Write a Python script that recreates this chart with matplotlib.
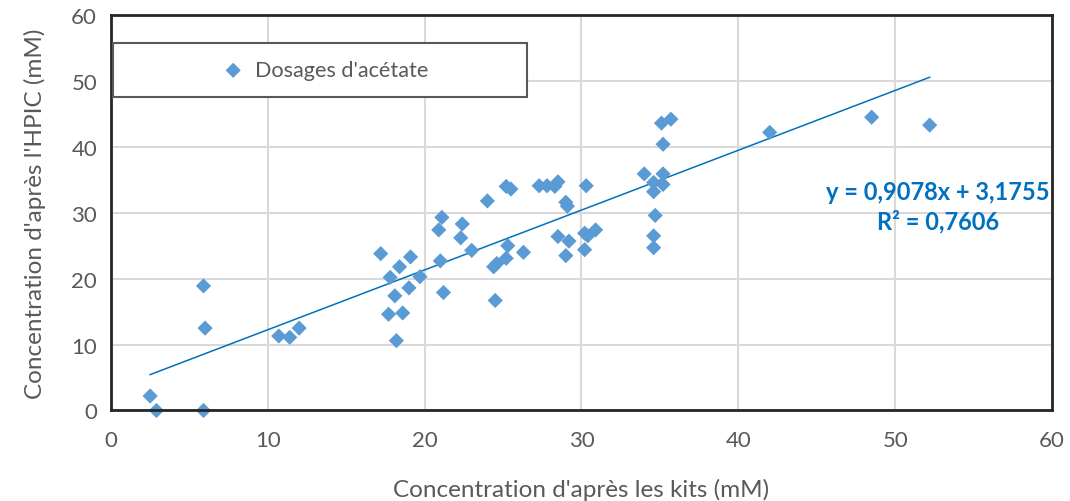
import numpy as np
import matplotlib.pyplot as plt
from matplotlib.patches import Rectangle

# valeurs
kits = [2.5, 2.9, 5.9, 5.9, 6.0, 10.7, 11.4, 12.0,
        17.2, 18.4, 19.1, 17.8, 19.7, 18.1, 19.0, 17.7, 18.6, 18.2,
        24.0, 21.1, 20.9, 22.4, 22.3, 23.0, 21.0, 21.2, 24.4, 24.6, 24.5,
        25.2, 25.5, 25.3, 25.2, 26.3, 27.3, 27.8, 28.3, 28.5,
        29.0, 29.1, 28.5, 29.2, 29.0, 30.3, 30.2, 30.4, 30.9, 30.2,
        34.0, 35.2, 34.6, 35.2, 34.6, 34.7, 34.6, 34.6, 35.2, 35.1, 35.7,
        42.0, 48.5, 52.2]
hpic = [2.2, 0.0, 0.0, 18.9, 12.5, 11.3, 11.1, 12.5,
        23.8, 21.8, 23.3, 20.2, 20.3, 17.4, 18.6, 14.6, 14.8, 10.6,
        31.8, 29.3, 27.4, 28.3, 26.2, 24.3, 22.7, 17.9, 21.8, 22.3, 16.7,
        34.0, 33.6, 25.0, 23.1, 24.0, 34.1, 34.1, 34.0, 34.7,
        31.6, 31.0, 26.4, 25.7, 23.5, 34.1, 26.9, 26.5, 27.4, 24.4,
        35.9, 35.9, 34.6, 34.3, 33.2, 29.6, 26.5, 24.7, 40.4, 43.6, 44.2,
        42.2, 44.5, 43.3]
pente = 0.9078
origine = 3.1755
r2 = "0,7606"

plt.rcParams['font.family'] = ['Lato', 'DejaVu Sans']
gris = '#595959'

fig = plt.figure(figsize=(10.7, 5.02), dpi=100)
ax = fig.add_axes([0.1037, 0.1803, 0.8795, 0.7877])

ax.scatter(kits, hpic, marker='D', s=60, color='#5B9BD5', zorder=3,
           label="Dosages d'acétate", edgecolors='none', clip_on=False)

# droite de tendance
xl = np.array([min(kits), max(kits)])
ax.plot(xl, pente * xl + origine, color='#0070C0', lw=1.1, zorder=2)

ax.set_xlim(0, 60)
ax.set_ylim(0, 60)
ax.set_xticks(range(0, 61, 10))
ax.set_yticks(range(0, 61, 10))
ax.grid(True, color='#D9D9D9', lw=1.5)
ax.set_axisbelow(True)
ax.tick_params(length=0, labelsize=16, colors=gris)
ax.tick_params(axis='x', pad=14)
ax.tick_params(axis='y', pad=10)
for s in ax.spines.values():
    s.set_color('#262626')
    s.set_linewidth(2)
    s.set_zorder(4)

ax.set_xlabel("Concentration d'après les kits (mM)", fontsize=17.5, color=gris, labelpad=20)
ax.set_ylabel("Concentration d'après l'HPIC (mM)", fontsize=17.5, color=gris, labelpad=18)

eq = "y = 0,9078x + 3,1755\nR² = " + r2
ax.text(59.85, 31.0, eq, ha='right', va='center', fontsize=17, fontweight='bold',
        color='#0070C0', multialignment='center', linespacing=1.3)

# cadre de légende
ax.add_patch(Rectangle((0.002, 0.793), 0.44, 0.136, transform=ax.transAxes,
                       facecolor='white', edgecolor=gris, lw=1.5, zorder=5))
leg = ax.legend(loc='center', bbox_to_anchor=(0.222, 0.861), fontsize=15.6,
                frameon=False, handletextpad=0.0, labelcolor=gris)
leg.set_zorder(6)

fig.savefig('out.png', dpi=100)
